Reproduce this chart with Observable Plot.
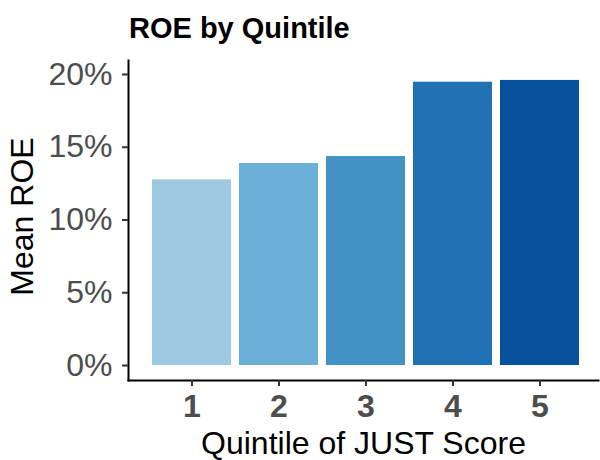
<!DOCTYPE html>
<html><head><meta charset="utf-8">
<script src="https://cdn.jsdelivr.net/npm/d3@7"></script>
<script src="https://cdn.jsdelivr.net/npm/@observablehq/plot@0.6"></script>
<style>
body{margin:0;background:#fff;font-family:"Liberation Sans",Arial,sans-serif;}
#wrap{position:relative;width:600px;height:460px;overflow:hidden;}
#title{position:absolute;left:129px;top:14px;font-weight:bold;font-size:29px;line-height:1;color:#000;white-space:nowrap;}
#chart{position:absolute;left:0;top:50px;}
</style></head><body>
<div id="wrap"><div id="title">ROE by Quintile</div><div id="chart"></div></div>
<script>
const quintiles = ["1", "2", "3", "4", "5"];
const meanROE = [12.76, 13.88, 14.36, 19.47, 19.59];
const barColors = ["#9ECAE1", "#6BAED6", "#4292C6", "#2171B5", "#08519C"];
const yTicks = [0, 5, 10, 15, 20];
const xTitle = "Quintile of JUST Score";
const yTitle = "Mean ROE";

const data = quintiles.map((q, i) => ({q, roe: meanROE[i]}));

const plot = Plot.plot({
  width: 600, height: 410,
  marginLeft: 128, marginRight: 2, marginTop: 10, marginBottom: 80,
  style: {fontFamily: "'Liberation Sans', Arial, sans-serif", background: "#fff", overflow: "visible"},
  x: {type: "band", domain: quintiles, range: [150, 581.6], paddingInner: 0.09, paddingOuter: 0},
  y: {domain: [-1.03, 20.96]},
  color: {type: "ordinal", domain: quintiles, range: barColors},
  marks: [
    Plot.barY(data, {x: "q", y: "roe", fill: "q"}),
    Plot.frame({anchor: "left", stroke: "#000", strokeWidth: 2}),
    Plot.frame({anchor: "bottom", stroke: "#000", strokeWidth: 2}),
    Plot.axisY({ticks: yTicks, tickFormat: d => d + "%", tickSize: 6, tickPadding: 10,
      fontSize: 32, stroke: "#333", fill: "#4D4D4D", strokeWidth: 2, label: null}),
    Plot.axisX({tickSize: 6, tickPadding: 8, fontSize: 32, fontWeight: "bold",
      stroke: "#333", fill: "#4D4D4D", strokeWidth: 2, label: null}),
    Plot.text([xTitle], {frameAnchor: "bottom", lineAnchor: "middle", textAnchor: "middle",
      dy: 63, fontSize: 32, fill: "#000"}),
    Plot.text([yTitle], {frameAnchor: "left", lineAnchor: "middle", textAnchor: "middle",
      dx: -106, dy: -4, rotate: -90, fontSize: 32, fill: "#000"})
  ]
});
document.getElementById("chart").appendChild(plot);
</script>
</body></html>
